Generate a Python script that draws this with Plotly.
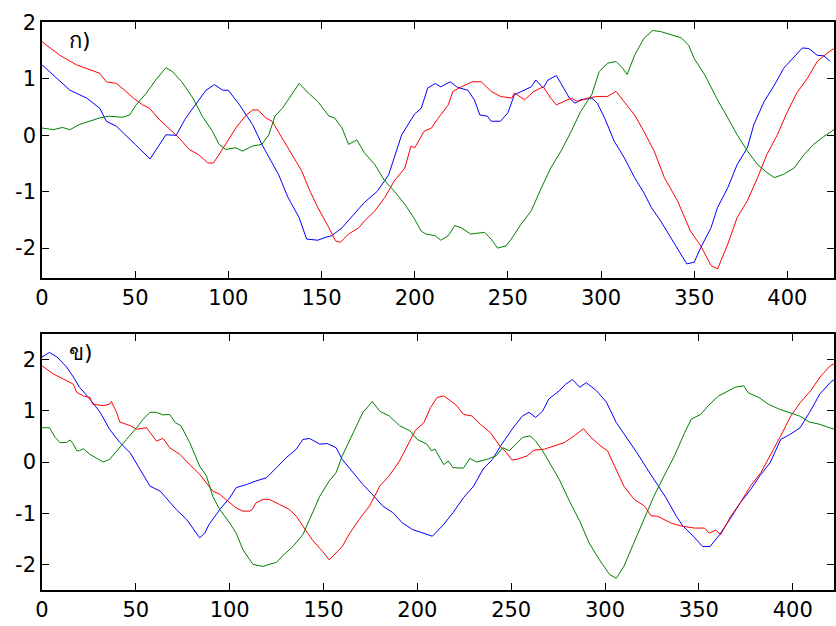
import plotly.graph_objects as go
from plotly.subplots import make_subplots

# ---------------- panel ก) ----------------
a_blue_x = [0, 15, 24, 31, 34.5, 40, 50, 58, 66.5, 72, 77, 82.5, 88, 92.5, 97, 100, 106, 113, 118, 123, 127, 132, 138, 142, 146, 148, 152, 155.5, 161, 166, 173, 180, 186, 189, 193, 200,
            203.5, 207, 211, 214, 219, 223, 228.5, 232, 235, 239, 241, 246, 250, 253.5, 259, 262.5, 265, 269, 271.5, 276, 278.5, 283, 286, 289, 295, 298, 302, 307, 312.5, 318, 323, 327, 332, 337.5, 343, 346, 350, 353.5, 359, 362.5, 368, 373, 378.5, 382, 387.5, 393, 398, 403.5, 408, 411.5, 416, 419.5, 423]
a_blue_y = [1.25, 0.8, 0.66, 0.48, 0.25, 0.16, -0.16, -0.42, 0.01, 0.0, 0.3, 0.54, 0.8, 0.9, 0.8, 0.8, 0.54, 0.19, -0.16, -0.46, -0.7, -1.1, -1.46, -1.84, -1.86, -1.86, -1.81, -1.78, -1.64, -1.46, -1.19, -0.99, -0.7, -0.4, 0.01, 0.38,
            0.48, 0.84, 0.92, 0.86, 0.95, 0.85, 0.8, 0.63, 0.36, 0.34, 0.25, 0.25, 0.4, 0.72, 0.8, 0.86, 0.98, 0.84, 0.98, 1.06, 0.92, 0.66, 0.57, 0.63, 0.66, 0.57, 0.3, -0.1, -0.4, -0.75, -1.02, -1.28, -1.52, -1.81, -2.1, -2.28, -2.25, -1.99, -1.64, -1.28, -0.93, -0.52, -0.22, 0.19, 0.6, 0.89, 1.19, 1.39, 1.55, 1.54, 1.42, 1.41, 1.31]

a_red_x = [0, 9.6, 18.5, 25.6, 31, 34.5, 40, 45, 49, 54, 57.7, 63, 68, 73.7, 79, 84, 89, 92, 95, 98.6, 104, 109, 113, 116, 120, 123.5, 129, 134, 139.5, 143, 148, 154, 157.5, 160, 164.5, 170, 173, 178.6, 184, 189, 194.7, 198,
           200, 205, 209, 212.5, 218, 220.5, 225, 231, 235.7, 241, 246, 252, 253.5, 259, 264, 269, 273, 276, 280, 284, 287.5, 293, 298, 303.5, 308, 312.5, 318, 323, 328.5, 334, 341, 348, 353.5, 359, 362.5, 368, 373, 378.5, 384, 389, 394.6, 400, 405, 410.7, 416, 421, 425]
a_red_y = [1.66, 1.42, 1.25, 1.16, 1.1, 0.95, 0.92, 0.78, 0.66, 0.54, 0.48, 0.28, 0.13, -0.05, -0.25, -0.34, -0.49, -0.49, -0.34, -0.16, 0.13, 0.34, 0.45, 0.45, 0.31, 0.25, -0.05, -0.34, -0.64, -0.93, -1.28, -1.64, -1.87, -1.9, -1.75, -1.64, -1.52, -1.34, -1.1, -0.81, -0.58, -0.19,
           -0.22, 0.07, 0.13, 0.3, 0.54, 0.78, 0.86, 0.95, 0.95, 0.78, 0.69, 0.66, 0.75, 0.63, 0.78, 0.86, 0.66, 0.54, 0.6, 0.66, 0.6, 0.66, 0.69, 0.69, 0.78, 0.6, 0.36, 0.07, -0.28, -0.75, -1.16, -1.7, -1.96, -2.31, -2.37, -1.93, -1.46, -1.16, -0.75, -0.34, 0.01, 0.42, 0.75, 1.01, 1.31, 1.45, 1.54]

a_green_x = [0, 6, 11, 15, 20, 25.6, 31, 36, 43, 47, 50.5, 56, 61, 66.5, 70, 75, 81, 86, 91.5, 95, 98.6, 104, 107.5, 113, 118, 121.7, 125, 129, 134, 138, 143, 148, 154, 157, 161, 164.5, 169, 173, 178.6, 184, 189, 194.7,
             200, 203.5, 206, 211, 214, 218, 221.5, 225, 230, 237.5, 241, 244.5, 249, 251.8, 257, 262.5, 268, 273, 278.5, 284, 289, 295, 299, 303.5, 308, 311.6, 314, 318, 323, 327.7, 332, 337.5, 343, 347, 350, 355.7, 362, 368, 373, 378.6, 384, 389, 393, 398, 403.6, 409, 414, 419.6, 425]
a_green_y = [0.13, 0.1, 0.14, 0.1, 0.19, 0.25, 0.31, 0.34, 0.32, 0.36, 0.54, 0.75, 0.98, 1.2, 1.13, 0.95, 0.66, 0.34, 0.07, -0.16, -0.25, -0.22, -0.28, -0.19, -0.16, 0.01, 0.34, 0.48, 0.72, 0.92, 0.75, 0.6, 0.34, 0.31, 0.13, -0.16, -0.08, -0.31, -0.52, -0.81, -0.99, -1.22,
             -1.49, -1.7, -1.75, -1.78, -1.86, -1.78, -1.6, -1.64, -1.75, -1.72, -1.84, -2.0, -1.96, -1.84, -1.58, -1.34, -0.93, -0.58, -0.28, 0.07, 0.42, 0.72, 1.13, 1.28, 1.31, 1.19, 1.08, 1.42, 1.72, 1.86, 1.84, 1.78, 1.73, 1.6, 1.36, 1.07, 0.66, 0.31, 0.01, -0.28, -0.52, -0.66, -0.75, -0.69, -0.58, -0.34, -0.16, -0.02, 0.1]

# ---------------- panel ข) ----------------
b_blue_x = [0, 4, 8, 13, 16.7, 20, 25.5, 31, 36, 41.5, 47, 52, 57.5, 63, 66, 71.6, 77, 81.4, 84, 86.7, 89, 94.7, 100, 103.5, 109, 114, 119.5, 125, 130, 135.5, 139, 142.5, 148, 152, 156.7, 160, 165.6, 171, 176, 181.5, 187, 192, 197.5,
            200, 205, 208, 214, 219, 224.5, 230, 235, 240, 245, 250.5, 256, 259.5, 263, 266.7, 270, 275.6, 279, 282.6, 286.5, 290, 295.5, 300.7, 306, 311, 317, 322, 327.5, 332.5, 338, 341.5, 347, 352, 356, 361, 366.5, 372, 377.5, 382.5, 388, 393.6, 398.6, 404, 409, 414.5, 420, 423.5]
b_blue_y = [2.05, 2.14, 2.05, 1.86, 1.66, 1.46, 1.23, 0.97, 0.64, 0.38, 0.18, -0.14, -0.47, -0.57, -0.7, -0.93, -1.12, -1.35, -1.48, -1.39, -1.22, -0.93, -0.7, -0.5, -0.44, -0.37, -0.31, -0.11, 0.08, 0.25, 0.44, 0.46, 0.35, 0.36, 0.28, 0.05, -0.21, -0.44, -0.63, -0.86, -0.99, -1.19, -1.32,
            -1.35, -1.42, -1.45, -1.22, -0.99, -0.7, -0.47, -0.14, 0.05, 0.35, 0.64, 0.9, 0.97, 0.87, 0.99, 1.23, 1.39, 1.52, 1.61, 1.46, 1.55, 1.39, 1.17, 0.77, 0.51, 0.18, -0.11, -0.41, -0.7, -1.06, -1.25, -1.45, -1.65, -1.65, -1.42, -1.12, -0.8, -0.54, -0.27, -0.01, 0.44, 0.54, 0.67, 0.97, 1.33, 1.55, 1.65]

b_red_x = [0, 6, 13, 16.7, 18.5, 22, 25.5, 27, 32.6, 36, 37, 39.7, 41.5, 47, 50.4, 55.7, 61, 64.5, 68, 73.4, 78.7, 84, 87.6, 91, 94.7, 100, 103.5, 107, 110.6, 112, 114, 117.7, 121, 126.6, 132, 135.5, 139, 144, 149.6, 153, 155, 160, 164, 169, 174.5, 180, 185, 190.5, 196, 199,
           203.5, 207, 210.5, 214, 217.5, 221, 224.5, 229, 233.5, 239, 244, 247.6, 250.4, 253, 258.5, 262, 267.6, 273, 278.3, 283.6, 288.5, 292.5, 297.8, 301.3, 305, 310, 315.5, 321, 324.5, 328, 335, 340.5, 347.5, 353, 355.5, 359, 361.6, 367, 372, 377.5, 383, 388, 393.6, 399, 404, 409.5, 415, 420, 423.5]
b_red_y = [1.88, 1.72, 1.59, 1.52, 1.36, 1.29, 1.26, 1.13, 1.1, 1.13, 1.18, 0.97, 0.78, 0.71, 0.64, 0.67, 0.41, 0.46, 0.28, 0.15, -0.05, -0.24, -0.41, -0.57, -0.63, -0.8, -0.9, -0.96, -0.96, -0.93, -0.8, -0.73, -0.73, -0.83, -0.93, -1.06, -1.25, -1.52, -1.75, -1.91, -1.84, -1.65, -1.39, -1.12, -0.86, -0.47, -0.27, 0.02, 0.41, 0.62,
           0.77, 1.06, 1.26, 1.29, 1.2, 1.1, 0.93, 0.9, 0.74, 0.57, 0.31, 0.18, 0.04, 0.05, 0.12, 0.23, 0.25, 0.31, 0.38, 0.51, 0.65, 0.48, 0.31, 0.22, -0.08, -0.47, -0.73, -0.86, -1.05, -1.06, -1.19, -1.25, -1.29, -1.29, -1.39, -1.33, -1.42, -1.06, -0.8, -0.47, -0.21, 0.12, 0.51, 0.9, 1.16, 1.39, 1.68, 1.88, 1.95]

b_green_x = [0, 4, 7, 9.6, 13, 15, 16.7, 18.5, 20, 22, 25.5, 29, 32.6, 36, 39.7, 45, 50.4, 54, 57.5, 61, 64.5, 68, 71, 74, 78.7, 84, 87.6, 91, 94.7, 100, 103.5, 107, 112.4, 117.7, 121, 125, 128, 133.7, 139, 142.5, 148, 153, 156.7, 160, 164, 167.4, 171, 176, 180, 185, 190.5, 196,
             200, 205, 207.5, 209.4, 214, 216.5, 219, 224.5, 228, 231.5, 237, 242, 245.5, 249, 252.6, 256, 260, 263, 266.7, 270, 275.6, 281, 286.6, 291.5, 297, 302.5, 306, 310, 315.5, 321, 326, 331.5, 337, 342.5, 346, 351, 355, 360.5, 366, 369.4, 373.8, 376.4, 382, 387, 393, 398, 403.5, 409, 414, 419.6, 425]
b_green_y = [0.67, 0.67, 0.48, 0.38, 0.38, 0.43, 0.35, 0.22, 0.22, 0.26, 0.15, 0.08, 0.0, 0.05, 0.22, 0.44, 0.67, 0.84, 0.97, 0.97, 0.92, 0.93, 0.77, 0.71, 0.38, -0.08, -0.27, -0.67, -0.93, -1.19, -1.39, -1.71, -2.0, -2.04, -2.0, -1.96, -1.84, -1.65, -1.42, -1.12, -0.67, -0.37, -0.21, 0.12, 0.44, 0.71, 0.97, 1.18, 0.99, 0.9, 0.71, 0.61,
             0.44, 0.35, 0.22, 0.25, -0.05, 0.02, -0.11, -0.12, 0.07, 0.0, 0.05, 0.12, 0.28, 0.22, 0.35, 0.48, 0.51, 0.41, 0.22, 0.02, -0.34, -0.76, -1.16, -1.58, -1.91, -2.2, -2.27, -2.04, -1.58, -1.12, -0.67, -0.27, 0.12, 0.58, 0.84, 0.93, 1.1, 1.29, 1.39, 1.46, 1.49, 1.35, 1.26, 1.13, 1.03, 0.97, 0.9, 0.78, 0.74, 0.67, 0.61]

panel_labels = ["ก)", "ข)"]
x_ticks = [0, 50, 100, 150, 200, 250, 300, 350, 400]
y_ticks = [-2, -1, 0, 1, 2]
y_ticktext = ["-2", "-1", "0", "1", "2"]

BLUE, RED, GREEN = "#0000FF", "#FF0000", "#008000"

fig = make_subplots(rows=2, cols=1, vertical_spacing=0.0986)

panels = [
    [(a_blue_x, a_blue_y, BLUE), (a_red_x, a_red_y, RED), (a_green_x, a_green_y, GREEN)],
    [(b_blue_x, b_blue_y, BLUE), (b_red_x, b_red_y, RED), (b_green_x, b_green_y, GREEN)],
]
for r, series in enumerate(panels, start=1):
    for xs, ys, c in series:
        fig.add_trace(go.Scatter(x=xs, y=ys, mode="lines", line=dict(color=c, width=1),
                                 showlegend=False, hoverinfo="skip"), row=r, col=1)

tickfont = dict(family="DejaVu Sans", size=21, color="black")
common_x = dict(tickmode="array", tickvals=x_ticks, ticks="inside", ticklen=7, tickwidth=1,
                tickcolor="black", showline=True, linecolor="black", linewidth=1.5, mirror="ticks",
                showgrid=False, zeroline=False, tickfont=tickfont)
common_y = dict(tickmode="array", tickvals=y_ticks, ticktext=y_ticktext, ticks="inside", ticklen=7,
                tickwidth=1, tickcolor="black", showline=True, linecolor="black", linewidth=1.5,
                mirror="ticks", showgrid=False, zeroline=False, tickfont=tickfont)

fig.update_xaxes(**common_x)
fig.update_yaxes(**common_y)
fig.update_xaxes(range=[0, 425], row=1, col=1)
fig.update_xaxes(range=[0, 422], row=2, col=1)
fig.update_yaxes(range=[-2.53, 2.01], row=1, col=1)
fig.update_yaxes(range=[-2.5, 2.5], row=2, col=1)

fig.update_layout(
    yaxis=dict(domain=[0.5493, 1.0]),
    yaxis2=dict(domain=[0.0, 0.4507]),
)

for i, lab in enumerate(panel_labels):
    ax = "x" if i == 0 else "x2"
    ay = "y" if i == 0 else "y2"
    fig.add_annotation(text=lab, xref=f"{ax} domain", yref=f"{ay} domain", x=0.032, y=0.985,
                       xanchor="left", yanchor="top", showarrow=False,
                       font=dict(family="DejaVu Sans", size=22, color="black"))

fig.update_layout(width=836, height=626, margin=dict(l=42, r=0, t=22, b=36),
                  paper_bgcolor="white", plot_bgcolor="white")

fig.write_html("out.html")
